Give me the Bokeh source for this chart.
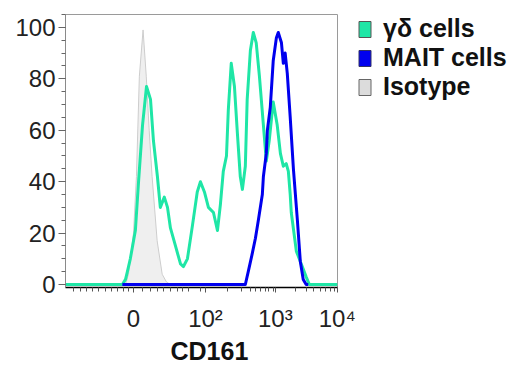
from bokeh.plotting import figure
from bokeh.layouts import row
from bokeh.models import Range1d, FixedTicker, SingleIntervalTicker, Legend, LegendItem, Title
from bokeh.embed import file_html
from bokeh.resources import INLINE

# ---- data (x in display channels 0..1024 of the biexponential scale, y in % of max) ----
gd_x = [0, 214, 226, 233, 244, 263, 275, 290, 305, 320, 331, 346, 357, 372, 384, 395, 414, 433, 444, 459,
        478, 496, 508, 523, 538, 557, 572, 583, 594, 606, 613, 624, 636, 647, 658, 666, 677, 684, 696, 707,
        718, 730, 745, 756, 767, 779, 782, 797, 809, 820, 831, 839, 846, 850, 869, 880, 895, 906, 918, 1024]
gd_y = [0, 0, 2, 5, 10, 21, 40, 62, 77, 72, 56, 42, 30, 34, 30, 22, 15, 8, 7, 10,
        23, 36, 40, 36, 30, 28, 21, 31, 44, 50, 68, 86, 77, 59, 42, 37, 46, 72, 91, 98,
        94, 81, 62, 48, 56, 68, 71, 62, 51, 46, 47, 44, 35, 28, 13, 10, 6, 3, 0, 0]

mait_x = [214, 677, 688, 703, 715, 726, 741, 745, 756, 760, 771, 782, 794, 801, 813, 820, 827, 835, 846, 858,
          873, 884, 895, 906, 914]
mait_y = [0, 0, 5, 12, 18, 25, 35, 42, 51, 60, 69, 87, 96, 98, 94, 86, 90, 82, 65, 45,
          25, 9, 2, 0, 0]

iso_x = [226, 237, 256, 267, 278, 292, 304, 315, 326, 345, 364, 380, 395]
iso_y = [0, 4, 20, 42, 81, 99, 81, 60, 42, 17, 4, 1, 0]
iso_base = [0] * len(iso_x)

x_tick_pos = [256, 527, 790, 1023]
x_tick_labels = ["0", "10²", "10³", "10⁴"]
x_minor_pos = [30, 56, 79, 102, 124, 150, 173, 196, 218, 237, 290, 320, 346, 369, 395, 421, 440, 463, 508,
               609, 662, 696, 715, 733, 752, 763, 782, 865, 906, 933, 959, 978, 997, 1012]

series_names = ["γδ cells", "MAIT cells", "Isotype"]
x_title = "CD161"
GREEN = "#1FE6A6"
BLUE = "#0000EE"
ISO_FILL = "#efefef"
ISO_LINE = "#cdcdcd"
FONT = "Liberation Sans"
NAN = float("nan")

p = figure(width=357, height=364, output_backend="svg", toolbar_location=None,
           x_range=Range1d(0, 1024), y_range=Range1d(-1.15, 105),
           min_border_left=65, min_border_right=20, min_border_top=14, min_border_bottom=20)
p.xgrid.visible = False
p.ygrid.visible = False
p.outline_line_color = "#9a9a9a"
p.outline_line_width = 1
p.background_fill_color = "white"
p.border_fill_color = "white"

# isotype (filled)
p.varea(x=iso_x, y1=iso_base, y2=iso_y, fill_color=ISO_FILL)
p.line(iso_x, iso_y, line_color=ISO_LINE, line_width=1)
# gamma-delta and MAIT histograms
p.line(gd_x, gd_y, line_color=GREEN, line_width=3, line_join="round")
p.line(mait_x, mait_y, line_color=BLUE, line_width=3, line_join="round")

# axes
xa = p.xaxis[0]
xa.ticker = FixedTicker(ticks=x_tick_pos, minor_ticks=x_minor_pos)
xa.major_label_overrides = {t: l for t, l in zip(x_tick_pos, x_tick_labels)}
xa.axis_line_color = "black"
xa.axis_line_width = 1.5
xa.major_tick_in = 0
xa.major_tick_out = 5
xa.minor_tick_in = 0
xa.minor_tick_out = 4
xa.major_tick_line_color = "#555555"
xa.minor_tick_line_color = "#555555"
xa.major_label_text_font = FONT
xa.major_label_text_font_size = "24px"
xa.major_label_text_color = "#222222"
xa.major_label_standoff = 12

ya = p.yaxis[0]
ya.ticker = SingleIntervalTicker(interval=20, num_minor_ticks=4)
ya.axis_line_color = "#8a8a8a"
ya.major_tick_in = 0
ya.major_tick_out = 7
ya.minor_tick_in = 0
ya.minor_tick_out = 4
ya.major_tick_line_color = "#666666"
ya.minor_tick_line_color = "#666666"
ya.major_label_text_font = FONT
ya.major_label_text_font_size = "24px"
ya.major_label_text_color = "#222222"
ya.major_label_standoff = 3

p.add_layout(Title(text=x_title, align="left", offset=105, standoff=0,
                   text_font=FONT, text_font_style="bold", text_font_size="25px",
                   text_color="#111111"), "below")

# legend panel (separate figure so the legend is not clipped by the plot frame)
lg = figure(width=163, height=364, output_backend="svg", toolbar_location=None,
            x_range=Range1d(0, 1), y_range=Range1d(0, 1), x_axis_type=None, y_axis_type=None,
            min_border_left=0, min_border_right=0, min_border_top=6, min_border_bottom=0)
lg.title = None
lg.outline_line_color = None
lg.xgrid.visible = False
lg.ygrid.visible = False
r1 = lg.quad(left=[NAN], right=[NAN], top=[NAN], bottom=[NAN], fill_color=GREEN, line_color="#555555")
r2 = lg.quad(left=[NAN], right=[NAN], top=[NAN], bottom=[NAN], fill_color=BLUE, line_color="#333366")
r3 = lg.quad(left=[NAN], right=[NAN], top=[NAN], bottom=[NAN], fill_color="#dcdcdc", line_color="#666666")
legend = Legend(items=[LegendItem(label=series_names[0], renderers=[r1]),
                       LegendItem(label=series_names[1], renderers=[r2]),
                       LegendItem(label=series_names[2], renderers=[r3])],
                location="top_left", orientation="vertical", padding=0, margin=0, spacing=0,
                border_line_color=None, background_fill_alpha=0,
                glyph_width=15, glyph_height=20, label_standoff=11,
                label_text_font=FONT, label_text_font_style="bold", label_text_font_size="25px",
                label_text_color="#111111")
lg.add_layout(legend)

layout = row(p, lg, spacing=0)
open("out.html", "w").write(file_html(layout, INLINE))
